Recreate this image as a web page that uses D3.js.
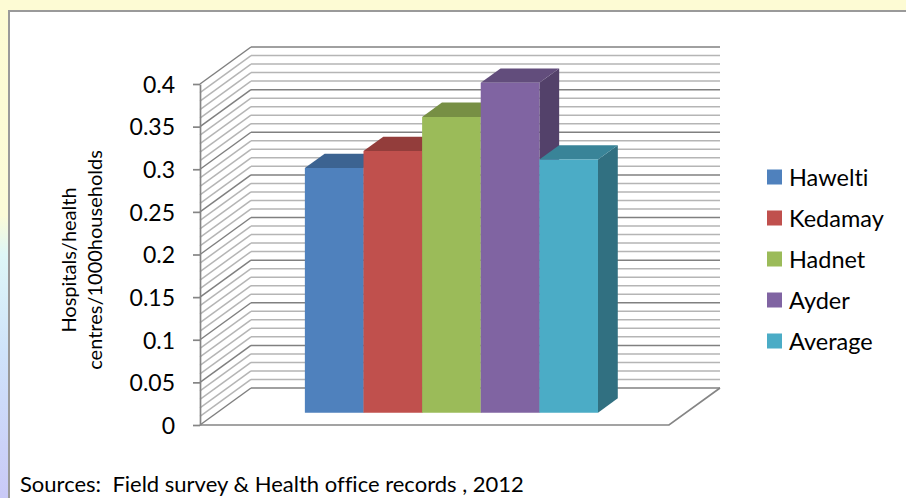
<!DOCTYPE html>
<html>
<head>
<meta charset="utf-8">
<script src="https://cdn.jsdelivr.net/npm/d3@7"></script>
<style>
  body { margin: 0; background: #fdfbd4; }
  svg { display: block; }
  text { font-family: Lato, "Open Sans", sans-serif; fill: #000; font-variant-ligatures: none; }
</style>
</head>
<body>
<div id="chart"></div>
<script>
// data
var districts = ["Hawelti", "Kedamay", "Hadnet", "Ayder", "Average"];
var values = [0.287, 0.307, 0.347, 0.387, 0.297];
var colors = ["#4F81BD", "#C0504D", "#9BBB59", "#8064A2", "#4BACC6"];
var tickValues = [0, 0.05, 0.1, 0.15, 0.2, 0.25, 0.3, 0.35, 0.4];
var gridValues = d3.range(0, 41).map(function (i) { return i / 100; });
var yTitle = ["Hospitals/health", "centres/1000households"];
var sourceText = "Sources:  Field survey & Health office records , 2012";

var width = 906, height = 498;
var depthX = 51, depthY = -37; // oblique offset from front plane to back wall
var barFront = 0.332, barBack = 0.72;

var svg = d3
  .select("#chart")
  .append("svg")
  .attr("width", width)
  .attr("height", height);

// page background
var grad = svg.append("defs").append("linearGradient")
  .attr("id", "leftStrip")
  .attr("x1", "0%").attr("x2", "0%").attr("y1", "0%").attr("y2", "100%");
[["0%", "#fdfbd3"], ["42%", "#fbfbd8"], ["50%", "#def7f7"], ["70%", "#cfe3fa"], ["100%", "#c9c9f7"]]
  .forEach(function (s) {
    grad.append("stop").attr("offset", s[0]).attr("stop-color", s[1]);
  });

svg.append("rect").attr("width", width).attr("height", height).style("fill", "#fdfbd4");
svg.append("rect").attr("x", 0).attr("y", 11).attr("width", 9).attr("height", height - 11)
  .style("fill", "url(#leftStrip)");
svg.append("rect")
  .attr("x", 9).attr("y", 11)
  .attr("width", width).attr("height", height)
  .style("fill", "#ffffff")
  .style("stroke", "#9a9a9a")
  .style("stroke-width", 2);

var y = d3.scaleLinear().domain([0, 0.4]).range([425, 84]);
var x = d3.scaleBand().domain(districts).range([200, 669]).paddingInner(0).paddingOuter(1.5);

function proj(px, v, d) {
  return [px + depthX * d, y(v) + depthY * d];
}
function isMajor(v) {
  return Math.abs(v * 20 - Math.round(v * 20)) < 1e-6;
}

var walls = svg.append("g").attr("class", "walls");

// left wall diagonals
walls.selectAll(null)
  .data(gridValues)
  .enter()
  .append("line")
  .attr("x1", 200).attr("y1", function (d) { return y(d); })
  .attr("x2", 200 + depthX).attr("y2", function (d) { return y(d) + depthY; })
  .style("stroke", function (d) { return isMajor(d) ? "#808080" : "#b5b5b5"; })
  .style("stroke-width", 1.5);

// back wall gridlines
walls.selectAll(null)
  .data(gridValues)
  .enter()
  .append("line")
  .attr("x1", 200 + depthX).attr("y1", function (d) { return y(d) + depthY; })
  .attr("x2", 669 + depthX).attr("y2", function (d) { return y(d) + depthY; })
  .style("stroke", function (d) { return isMajor(d) ? "#808080" : "#b5b5b5"; })
  .style("stroke-width", 1.5);

// floor edges
walls.append("path")
  .attr("d", d3.line()([[200, y(0)], [669, y(0)], [669 + depthX, y(0) + depthY]]))
  .style("fill", "none")
  .style("stroke", "#858585")
  .style("stroke-width", 1.7);

// value axis
var yAxis = d3.axisLeft(y)
  .tickValues(tickValues)
  .tickFormat(d3.format(""))
  .tickSize(7)
  .tickSizeOuter(0)
  .tickPadding(18);

var axisG = svg.append("g")
  .attr("class", "y_Axis")
  .attr("transform", "translate(200,0)")
  .call(yAxis);
axisG.select(".domain").style("stroke", "#858585").style("stroke-width", 1.7);
axisG.selectAll(".tick line").style("stroke", "#858585").style("stroke-width", 1.7);
axisG.selectAll(".tick text")
  .style("font-size", "23px")
  .style("font-family", "Lato, sans-serif")
  .attr("dy", "0.36em");

// bars, drawn left to right so later fronts cover earlier sides
var bars = svg.append("g").attr("class", "bars");
districts.forEach(function (name, i) {
  var x0 = x(name), x1 = x0 + x.bandwidth(), v = values[i];
  var base = d3.color(colors[i]);
  var g = bars.append("g");
  g.append("path")
    .attr("d", d3.line()([proj(x1, 0, barFront), proj(x1, 0, barBack), proj(x1, v, barBack), proj(x1, v, barFront)]) + "Z")
    .style("fill", base.darker(1.2));
  g.append("path")
    .attr("d", d3.line()([proj(x0, v, barFront), proj(x1, v, barFront), proj(x1, v, barBack), proj(x0, v, barBack)]) + "Z")
    .style("fill", base.darker(0.75));
  g.append("path")
    .attr("d", d3.line()([proj(x0, 0, barFront), proj(x1, 0, barFront), proj(x1, v, barFront), proj(x0, v, barFront)]) + "Z")
    .style("fill", base);
});

// axis title
var title = svg.append("text")
  .attr("transform", "translate(82,260) rotate(-90)")
  .attr("text-anchor", "middle")
  .style("font-size", "20px");
title.selectAll("tspan")
  .data(yTitle)
  .enter()
  .append("tspan")
  .attr("x", 0)
  .attr("y", function (d, i) { return i === 0 ? -6 : 20; })
  .text(function (d) { return d; });

// legend
var legend = svg.append("g").attr("class", "legend");
var rows = legend.selectAll(null)
  .data(districts)
  .enter()
  .append("g")
  .attr("transform", function (d, i) { return "translate(767," + (177 + i * 41) + ")"; });
rows.append("rect")
  .attr("x", 0).attr("y", -7.5)
  .attr("width", 15).attr("height", 15)
  .style("fill", function (d, i) { return colors[i]; });
rows.append("text")
  .attr("x", 22).attr("y", 8.5)
  .style("font-size", "23.5px")
  .text(function (d) { return d; });

svg.append("text")
  .attr("x", 20).attr("y", 492)
  .style("font-size", "22px")
  .style("white-space", "pre")
  .text(sourceText);
</script>
</body>
</html>
